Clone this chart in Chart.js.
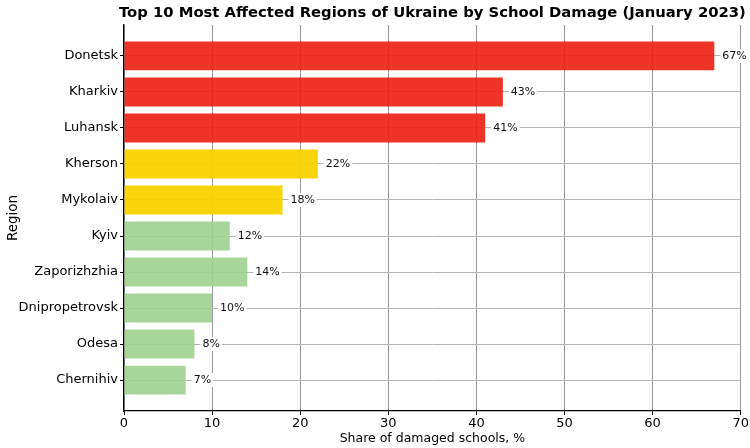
<!DOCTYPE html>
<html><head><meta charset="utf-8">
<script src="https://cdn.jsdelivr.net/npm/chart.js@4.4.1/dist/chart.umd.min.js"></script>
<style>html,body{margin:0;padding:0;background:#fff}#wrap{width:750px;height:448px}</style>
</head><body><div id="wrap"><canvas id="c" width="750" height="448"></canvas></div>
<script>
const regions = ["Donetsk","Kharkiv","Luhansk","Kherson","Mykolaiv","Kyiv","Zaporizhzhia","Dnipropetrovsk","Odesa","Chernihiv"];
const shares = [67,43,41,22,18,12,14,10,8,7];
const severity = ["high","high","high","mid","mid","low","low","low","low","low"];
const xTicks = [0,10,20,30,40,50,60,70];
const chartTitle = "Top 10 Most Affected Regions of Ukraine by School Damage (January 2023)";
const palette = {high:"rgba(236,30,16,0.9)", mid:"rgba(249,210,0,0.95)", low:"rgba(158,209,143,0.9)"};
const FONT = "'DejaVu Sans', sans-serif";

const valueLabels = {
  id:'valueLabels',
  afterDatasetsDraw(chart){
    const ctx = chart.ctx, xs = chart.scales.x, ys = chart.scales.y;
    ctx.save();
    ctx.font = "11px " + FONT;
    ctx.textBaseline = "middle";
    ctx.textAlign = "left";
    shares.forEach((v,i)=>{
      const x = xs.getPixelForValue(v) + 8;
      const y = ys.getPixelForValue(i);
      const t = v + "%";
      const w = ctx.measureText(t).width;
      ctx.fillStyle = "#fff";
      ctx.fillRect(x-2, y-7, w+4, 14);
      ctx.fillStyle = "#111";
      ctx.fillText(t, x, y+0.5);
    });
    ctx.restore();
  },
  afterDraw(chart){
    const ctx = chart.ctx, a = chart.chartArea;
    ctx.save();
    ctx.font = "bold 14.8px " + FONT;
    ctx.fillStyle = "#000";
    ctx.textAlign = "center";
    ctx.textBaseline = "middle";
    ctx.fillText(chartTitle, (a.left + a.right)/2, 13);
    ctx.restore();
  }
};

new Chart(document.getElementById('c'), {
  type:'bar',
  data:{
    datasets:[{
      data: shares.map((v,i)=>({x:v, y:i})),
      backgroundColor: severity.map(s=>palette[s]),
      borderWidth:0,
      barPercentage:0.8,
      categoryPercentage:1.0
    }]
  },
  options:{
    indexAxis:'y',
    responsive:false,
    animation:false,
    devicePixelRatio:1,
    layout:{padding:{left:5,right:9,top:25,bottom:0}},
    plugins:{
      legend:{display:false},
      tooltip:{enabled:false},
      title:{display:false}
    },
    scales:{
      x:{
        type:'linear', min:0, max:70,
        afterBuildTicks(s){ s.ticks = xTicks.map(v=>({value:v})); },
        afterFit(s){ s.height = 37; },
        grid:{color:"#9a9a9a", lineWidth:1, tickLength:4, tickColor:"#000", drawOnChartArea:true},
        border:{display:true, color:"#000", width:1.3},
        ticks:{color:"#000", font:{family:FONT, size:13}, padding:1, maxRotation:0},
        title:{display:true, text:"Share of damaged schools, %", color:"#000", font:{family:FONT, size:12.5}, padding:{top:0,bottom:2}}
      },
      y:{
        type:'linear', min:-0.86, max:9.86, reverse:true, offset:false,
        afterBuildTicks(s){ s.ticks = regions.map((r,i)=>({value:i})); },
        afterFit(s){ s.width = 119; },
        grid:{color:"#b4b4b4", lineWidth:1, tickLength:4, tickColor:"#000", offset:false},
        border:{display:true, color:"#000", width:1.3},
        ticks:{color:"#000", font:{family:FONT, size:13}, padding:2, autoSkip:false,
          callback:(v)=>regions[v]},
        title:{display:true, text:"Region", color:"#000", font:{family:FONT, size:13.5}, padding:{top:0,bottom:0}}
      }
    }
  },
  plugins:[valueLabels]
});
</script></body></html>
